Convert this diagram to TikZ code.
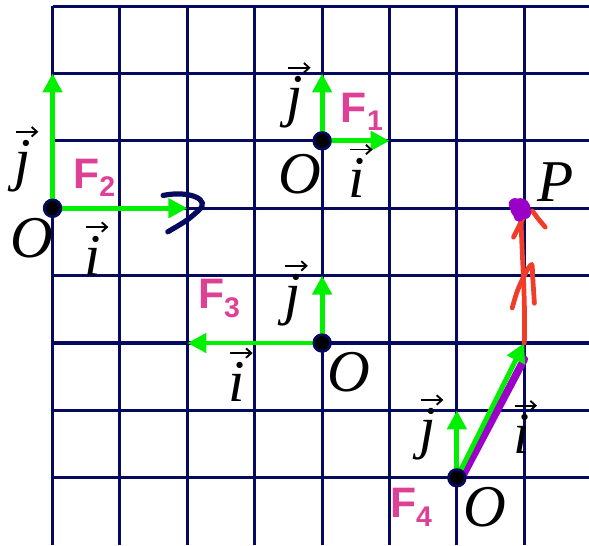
\documentclass[tikz,border=0pt]{standalone}
\usepackage{amsmath}
\usepackage{fontspec}
\newfontfamily\flabfont{Liberation Sans}
\newfontfamily\mlabfont{Liberation Serif}
\usepackage{tikz}
\usetikzlibrary{arrows.meta}
\definecolor{gridnavy}{RGB}{5,10,95}
\definecolor{vgreen}{RGB}{0,240,0}
\definecolor{fpink}{RGB}{222,64,150}
\definecolor{pred}{RGB}{240,60,40}
\definecolor{ppurple}{RGB}{155,0,200}
\newcommand{\Flab}[1]{{\flabfont\bfseries\fontsize{18}{18}\selectfont F\raisebox{-3.5pt}{\fontsize{12}{12}\selectfont #1}}}

\begin{document}
\begin{tikzpicture}[x=1cm,y=1cm,
  vecarrow/.style={vgreen,line width=2.1pt,-{Triangle[length=8pt,width=8pt]}},
  vecbar/.style={black,line width=0.8pt,-{Straight Barb[length=2.2pt,width=4pt]}},
  dotO/.style={circle,fill=black,draw=gridnavy,line width=1.1pt,inner sep=0pt,minimum size=7pt},
  mlab/.style={inner sep=0pt,font=\mlabfont\itshape\fontsize{25}{27}\selectfont},
  flab/.style={inner sep=0pt,fpink},
  redline/.style={pred,line width=2pt,line cap=round,line join=round}]
\useasboundingbox (-0.78,0) rectangle (7.96,8.09);
% grid
\foreach \x in {0,...,7} \draw[gridnavy,line width=1.3pt](\x,0)--(\x,8);
\foreach \y in {1,...,8} \draw[gridnavy,line width=1.3pt](0,\y)--(7.96,\y);

% F2
\node[dotO](O2) at (0,5){};
\coordinate (j2) at (0,7);
\coordinate (i2) at (2,5);
\draw[vecarrow](O2.center)--(j2);
\draw[vecarrow](O2.center)--(i2);
\node[dotO] at (O2){};
\draw[gridnavy,line width=2.2pt,line cap=round](1.64,5.19) .. controls (2.05,5.27) and (2.35,5.12) .. (2.17,4.97) .. controls (2.0,4.82) .. (1.71,4.65);
\node[mlab](lj2) at (-0.44,5.62){j};
\node[mlab](lO2) at (-0.30,4.56){O};
\node[mlab](li2) at (0.60,4.30){i};
\node[flab](F2) at (0.62,5.45){\Flab{2}};

% F1
\node[dotO](O1) at (4,6){};
\coordinate (j1) at (4,7);
\coordinate (i1) at (5,6);
\draw[vecarrow](O1.center)--(j1);
\draw[vecarrow](O1.center)--(i1);
\node[dotO] at (O1){};
\node[mlab](lj1) at (3.60,6.57){j};
\node[mlab](lO1) at (3.67,5.50){O};
\node[mlab](li1) at (4.52,5.45){i};
\node[flab](F1) at (4.59,6.43){\Flab{1}};

% F3
\node[dotO](O3) at (4,3){};
\coordinate (j3) at (4,4);
\coordinate (i3) at (2,3);
\draw[vecarrow](O3.center)--(j3);
\draw[vecarrow](O3.center)--(i3);
\node[dotO] at (O3){};
\node[mlab](lj3) at (3.56,3.63){j};
\node[mlab](lO3) at (4.40,2.57){O};
\node[mlab](li3) at (2.74,2.43){i};
\node[flab](F3) at (2.47,3.66){\Flab{3}};

% F4
\node[dotO](O4) at (6,1){};
\coordinate (j4) at (6,2);
\coordinate (i4) at (7,3);
\draw[ppurple,line width=3.2pt,line cap=round]([xshift=2pt]O4.center)--(7.0,2.76);
\draw[vecarrow](O4.center)--(j4);
\draw[vecarrow](O4.center)--(i4);
\node[dotO] at (O4){};
\node[mlab](lj4) at (5.57,1.64){j};
\node[mlab](lO4) at (6.42,0.56){O};
\node[mlab](li4) at (6.96,1.65){i};
\node[flab](F4) at (5.32,0.56){\Flab{4}};

% arrows over i and j
\foreach \n in {lj1,lj2,lj3,lj4,li1,li2,li3,li4}
  \draw[vecbar]([xshift=-3pt,yshift=3.5pt]\n.north)--++(9.5pt,0);

% P and the red path
\coordinate (P) at (6.94,5.0);
\draw[redline](i4) .. controls (7.02,3.7) and (6.96,4.3) .. (6.95,4.92);
\draw[redline](6.82,3.52) .. controls (6.9,3.8) .. (7.04,4.08) .. controls (7.12,4.2) .. (7.12,4.05) -- (7.15,3.59);
\draw[redline](6.84,4.57)--(6.99,4.87);
\draw[redline](7.12,4.96) .. controls (7.2,4.85) .. (7.31,4.72);
\fill[ppurple](P) circle (0.15);
\fill[ppurple](6.86,5.06) circle (0.09);
\fill[ppurple](7.01,4.93) circle (0.09);
\fill[ppurple](6.92,4.88) circle (0.08);
\node[mlab](lP) at (7.46,5.39){P};
\end{tikzpicture}
\end{document}
